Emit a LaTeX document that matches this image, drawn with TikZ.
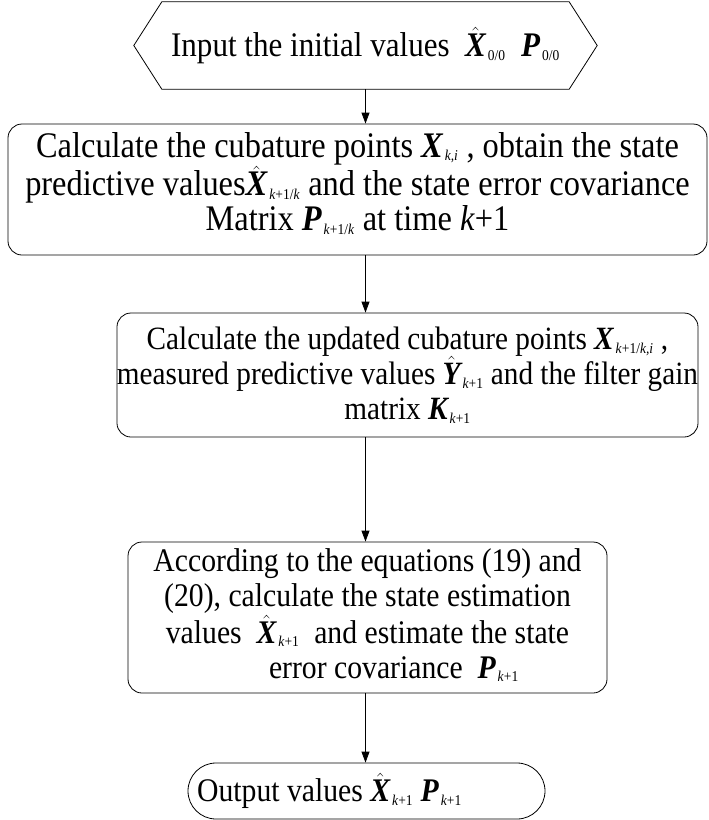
\documentclass[tikz,border=0pt]{standalone}
\usepackage{amsmath}
\usepackage{fontspec}
\setmainfont{Liberation Serif}[FakeStretch=0.9]
\usepackage{tikz}
\usetikzlibrary{arrows.meta,positioning}

\begin{document}
\begin{tikzpicture}[y=-1pt,x=1pt,
	stepbox/.style={draw, line width=0.8pt, rounded corners=14pt, align=center, inner sep=0pt},
	flow/.style={-{Triangle[length=11pt,width=8pt]}, line width=0.8pt}]
	\newcommand\Bv[1]{\text{\bfseries\itshape #1}}
	\newcommand\Hv[1]{\hat{\Bv{#1}}}
	\newcommand\Ix[1]{_{\text{\kern2pt\fontsize{15}{15}\selectfont #1}}}
	\useasboundingbox (0,0) rectangle (709,820);

	% input (hexagon)
	\node[minimum width=463pt, minimum height=87pt, inner sep=0pt, font=\fontsize{34.5}{40}\selectfont] (init) at (365.5,45.5)
		{Input the initial values~ $\Hv{X}\Ix{0/0}$~ $\Bv{P}\Ix{0/0}$};
	\draw[line width=0.8pt] (init.west) -- ([xshift=28pt]init.north west) -- ([xshift=-28pt]init.north east) -- (init.east)
		-- ([xshift=-28pt]init.south east) -- ([xshift=28pt]init.south west) -- cycle;

	% steps
	\node[stepbox, minimum width=699pt, minimum height=131pt, font=\fontsize{36}{35}\selectfont] (pred) at (357.5,189.5)
		{Calculate the cubature points $\Bv{X}\Ix{\textit{k,i}}$ , obtain the state\\
		predictive values$\Hv{X}\Ix{\textit{k}+1/\textit{k}}$ and the state error covariance\\
		Matrix $\Bv{P}\Ix{\textit{k}+1/\textit{k}}$ at time \textit{k}+1\rule[-16pt]{0pt}{0pt}};
	\node[stepbox, minimum width=575pt, minimum height=124pt, font=\fontsize{32.5}{35}\selectfont] (upd) at (407.5,375)
		{Calculate the updated cubature points $\Bv{X}\Ix{\textit{k}+1/\textit{k,i}}$ ,\\
		measured predictive values $\Hv{Y}\Ix{\textit{k}+1}$ and the filter gain\\
		matrix $\Bv{K}\Ix{\textit{k}+1}$};
	\node[stepbox, minimum width=479pt, minimum height=151pt, font=\fontsize{33}{35}\selectfont] (est) at (367.5,617.5)
		{According to the equations (19) and\\
		(20), calculate the state estimation\\
		values~ $\Hv{X}\Ix{\textit{k}+1}$~ and estimate the state\\
		\hspace*{1.6em}error covariance~ $\Bv{P}\Ix{\textit{k}+1}$\rule[-8pt]{0pt}{0pt}};

	% output (terminal)
	\node[stepbox, rounded corners=28pt, minimum width=357pt, minimum height=56pt, font=\fontsize{33}{35}\selectfont] (out) at (366.5,791)
		{Output values $\Hv{X}\Ix{\textit{k}+1}$ $\Bv{P}\Ix{\textit{k}+1}$\hspace*{74pt}};

	\draw[flow] (init.south) -- (init.south |- pred.north);
	\draw[flow] (init.south |- pred.south) -- (init.south |- upd.north);
	\draw[flow] (init.south |- upd.south) -- (init.south |- est.north);
	\draw[flow] (init.south |- est.south) -- (init.south |- out.north);
\end{tikzpicture}
\end{document}
